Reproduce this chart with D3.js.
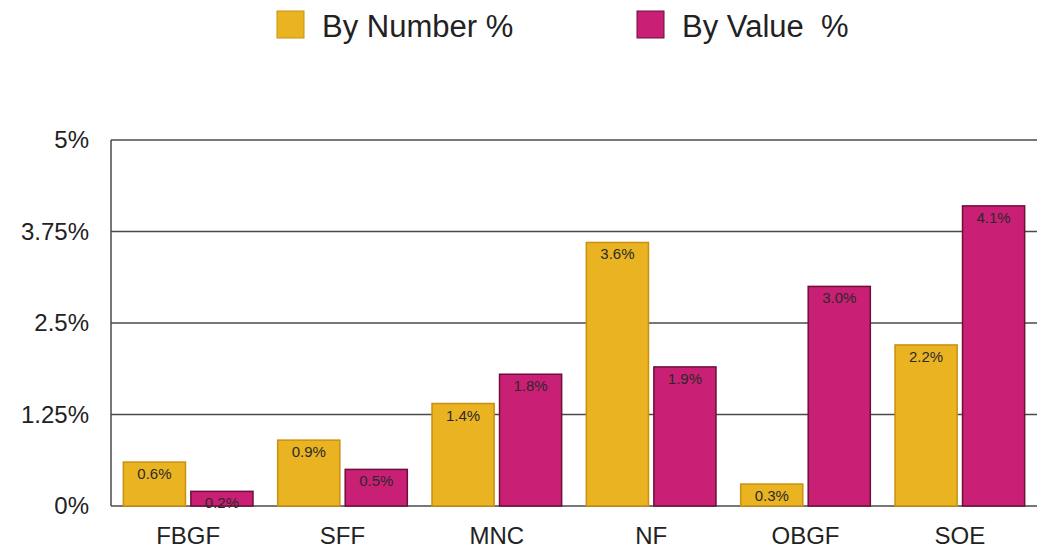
<!DOCTYPE html>
<html>
<head>
<meta charset="utf-8">
<script src="https://cdn.jsdelivr.net/npm/d3@7"></script>
<style>
  body { margin: 0; background: #fff; }
  svg { font-family: "Liberation Sans", Arial, sans-serif; }
</style>
</head>
<body>
<svg id="chart" width="1037" height="555"></svg>
<script>
// data
const categories = ['FBGF', 'SFF', 'MNC', 'NF', 'OBGF', 'SOE'];
const byNumber = [0.6, 0.9, 1.4, 3.6, 0.3, 2.2];
const byValue = [0.2, 0.5, 1.8, 1.9, 3.0, 4.1];
const yTicks = [0, 1.25, 2.5, 3.75, 5];
const seriesNames = ['By Number %', 'By Value  %'];

const colors = ['#eab322', '#c91f74'];
const strokes = ['#c98f10', '#6e0f3a'];

const margin = { top: 140, right: 0, bottom: 49, left: 111 };
const width = 1037 - margin.left - margin.right;
const height = 555 - margin.top - margin.bottom;

const svg = d3.select('#chart');
const g = svg.append('g')
  .attr('transform', `translate(${margin.left}, ${margin.top})`);

const x = d3.scaleBand()
  .domain(categories)
  .range([0, width])
  .paddingInner(0.16)
  .paddingOuter(0.08);

const x1 = d3.scaleBand()
  .domain([0, 1])
  .range([0, x.bandwidth()])
  .paddingInner(0.08);

const y = d3.scaleLinear()
  .domain([0, 5])
  .range([height, 0]);

// grid lines
g.selectAll('.grid')
  .data(yTicks)
  .enter().append('line')
  .attr('x1', 0)
  .attr('x2', width)
  .attr('y1', d => y(d))
  .attr('y2', d => y(d))
  .style('stroke', '#4a4a4a')
  .style('stroke-width', 1.3);

// left axis line
g.append('line')
  .attr('x1', 0).attr('x2', 0)
  .attr('y1', 0).attr('y2', height)
  .style('stroke', '#4a4a4a')
  .style('stroke-width', 1.5);

// y tick labels
g.selectAll('.ytick')
  .data(yTicks)
  .enter().append('text')
  .attr('x', -22)
  .attr('y', d => y(d))
  .attr('dy', '0.35em')
  .attr('text-anchor', 'end')
  .style('font-size', '24px')
  .style('fill', '#222')
  .text(d => d + '%');

const rows = categories.map((c, i) => ({ cat: c, vals: [byNumber[i], byValue[i]] }));

const groups = g.selectAll('.group')
  .data(rows)
  .enter().append('g')
  .attr('transform', d => `translate(${x(d.cat)}, 0)`);

groups.selectAll('rect')
  .data(d => d.vals.map((v, k) => ({ v, k })))
  .enter().append('rect')
  .attr('x', d => x1(d.k))
  .attr('y', d => y(d.v))
  .attr('width', x1.bandwidth())
  .attr('height', d => height - y(d.v))
  .style('fill', d => colors[d.k])
  .style('stroke', d => strokes[d.k])
  .style('stroke-width', 1.5);

groups.selectAll('.lbl')
  .data(d => d.vals.map((v, k) => ({ v, k })))
  .enter().append('text')
  .attr('x', d => x1(d.k) + x1.bandwidth() / 2)
  .attr('y', d => y(d.v) + 17)
  .attr('text-anchor', 'middle')
  .style('font-size', '15px')
  .style('fill', '#2a2a2a')
  .text(d => d.v.toFixed(1) + '%');

// x labels
g.selectAll('.xlabel')
  .data(categories)
  .enter().append('text')
  .attr('x', d => x(d) + x.bandwidth() / 2)
  .attr('y', height + 38)
  .attr('text-anchor', 'middle')
  .style('font-size', '24px')
  .style('fill', '#222')
  .text(d => d);

// legend
const legendX = [277, 637];
const legend = svg.selectAll('.legend')
  .data(seriesNames)
  .enter().append('g')
  .attr('transform', (d, i) => `translate(${legendX[i]}, 11)`);

legend.append('rect')
  .attr('width', 27)
  .attr('height', 27)
  .style('fill', (d, i) => colors[i])
  .style('stroke', (d, i) => strokes[i])
  .style('stroke-width', 1);

legend.append('text')
  .attr('x', 45)
  .attr('y', 15)
  .attr('dy', '0.35em')
  .style('font-size', '31px')
  .style('fill', '#222')
  .style('white-space', 'pre')
  .text(d => d);
</script>
</body>
</html>
